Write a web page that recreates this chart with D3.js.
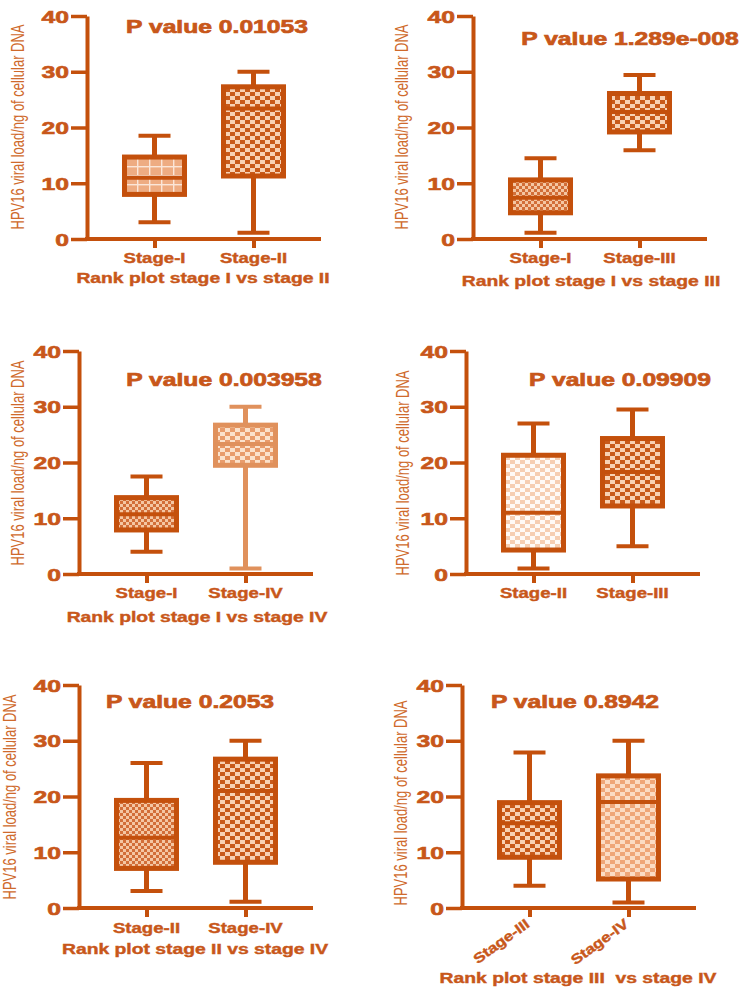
<!DOCTYPE html>
<html><head><meta charset="utf-8">
<script src="https://cdn.jsdelivr.net/npm/d3@7"></script>
<style>
html,body{margin:0;padding:0;background:#fff;}
svg{display:block;font-family:"Liberation Sans",Arial,Helvetica,sans-serif;}
</style></head>
<body>
<svg id="chart" width="749" height="997"></svg>
<script>
// ---------- DATA ----------
const yTicks = [0, 10, 20, 30, 40];
const yLabel = "HPV16 viral load/ng of cellular DNA";

const categories1 = ["Stage-I", "Stage-II"];
const stats1 = [[3, 8, 11, 14.7, 18.5], [1.1, 11.3, 23.4, 27.3, 30]]; // min,q1,median,q3,max
const pValue1 = "P value 0.01053";
const title1 = "Rank plot stage I vs stage II";

const categories2 = ["Stage-I", "Stage-III"];
const stats2 = [[1.1, 4.7, 7.4, 10.6, 14.5], [15.9, 19.2, 22.8, 26.1, 29.4]];
const pValue2 = "P value 1.289e-008";
const title2 = "Rank plot stage I vs stage III";

const categories3 = ["Stage-I", "Stage-IV"];
const stats3 = [[4.0, 7.9, 10.7, 13.7, 17.5], [1.0, 19.5, 23.3, 26.7, 30]];
const pValue3 = "P value 0.003958";
const title3 = "Rank plot stage I vs stage IV";

const categories4 = ["Stage-II", "Stage-III"];
const stats4 = [[1.0, 4.3, 11.0, 21.3, 27], [5.0, 12.2, 18.3, 24.3, 29.5]];
const pValue4 = "P value 0.09909";
const title4 = "";

const categories5 = ["Stage-II", "Stage-IV"];
const stats5 = [[3.05, 7.1, 12.6, 19.3, 26], [1.1, 8.2, 21.0, 26.7, 30]];
const pValue5 = "P value 0.2053";
const title5 = "Rank plot stage II vs stage IV";

const categories6 = ["Stage-III", "Stage-IV"];
const stats6 = [[4.0, 9.1, 15.2, 18.9, 27.9], [1.0, 5.2, 19.0, 23.7, 30]];
const pValue6 = "P value 0.8942";
const title6 = "Rank plot stage III  vs stage IV";

// ---------- STYLE ----------
const DARK = "#c4500c";
const LIGHT_STROKE = "#e0915c";
const TEXT = "#c8571a";
const YLAB = "#cf6a2c";

const svg = d3.select("#chart");
const defs = svg.append("defs");

function checker(id, w, h, dark, light) {
  const p = defs.append("pattern").attr("id", id).attr("patternUnits", "userSpaceOnUse")
    .attr("width", 2 * w).attr("height", 2 * h);
  p.append("rect").attr("width", 2 * w).attr("height", 2 * h).attr("fill", dark);
  p.append("rect").attr("x", 0).attr("y", 0).attr("width", w).attr("height", h).attr("fill", light);
  p.append("rect").attr("x", w).attr("y", h).attr("width", w).attr("height", h).attr("fill", light);
}
checker("darkCheck", 5, 4, "#c85a1a", "#f8d2b4");
checker("fineCheck", 3, 3, "#d26e38", "#f4c6a2");
checker("lightCheck", 5, 4, "#e89c6c", "#fbe2cc");
checker("paleCheck", 5, 4, "#f6ceb2", "#fffaf6");
checker("peachCheck", 5, 4, "#efa678", "#fbdcc4");
(function plaid() {
  const p = defs.append("pattern").attr("id", "plaid").attr("patternUnits", "userSpaceOnUse")
    .attr("width", 12).attr("height", 9);
  p.append("rect").attr("width", 12).attr("height", 9).attr("fill", "#eeac82");
  p.append("rect").attr("x", 5).attr("y", 0).attr("width", 1.4).attr("height", 9).attr("fill", "#fbe6d8");
  p.append("rect").attr("x", 0).attr("y", 4).attr("width", 12).attr("height", 1.4).attr("fill", "#fbe6d8");
})();

function heavy(sel, w) {
  return sel.attr("stroke", TEXT).attr("stroke-width", w).attr("paint-order", "stroke");
}

function stext(g, str, x, y, size, weight, anchor, sx, color) {
  return g.append("text")
    .attr("transform", `translate(${x},${y}) scale(${sx},1)`)
    .attr("text-anchor", anchor)
    .style("font-size", size + "px").style("font-weight", weight)
    .style("white-space", "pre")
    .attr("fill", color).text(str);
}

function drawPanel(cfg) {
  const g = svg.append("g");
  const y = d3.scaleLinear().domain([0, 40]).range([cfg.y0, cfg.y0 - 223]);
  const x = d3.scalePoint().domain(cfg.cats).range([cfg.axX, cfg.axX + 234]).padding(0.682);

  // y axis
  const ya = g.append("g").attr("transform", `translate(${cfg.axX},0)`)
    .call(d3.axisLeft(y).tickValues(yTicks).tickSize(16).tickSizeOuter(0).tickFormat(d3.format("d")));
  ya.select(".domain").attr("stroke", DARK).attr("stroke-width", 4);
  ya.selectAll(".tick line").attr("stroke", DARK).attr("stroke-width", 3.5);
  heavy(ya.selectAll(".tick text").attr("x", null).attr("dy", null)
    .attr("transform", "translate(-18,6) scale(1.5,1)")
    .attr("fill", TEXT).style("font-size", "16.5px").style("font-weight", "bold")
    .style("font-family", "inherit"), 0.6);

  // x axis
  const xa = g.append("g").attr("transform", `translate(0,${cfg.y0})`)
    .call(d3.axisBottom(x).tickSize(9).tickSizeOuter(0).tickFormat(""));
  xa.select(".domain").attr("stroke", DARK).attr("stroke-width", 4).attr("d", `M${cfg.axX - 2},0H${cfg.axX + 234}`);
  xa.selectAll(".tick line").attr("stroke", DARK).attr("stroke-width", 4);

  // category labels
  cfg.cats.forEach((c) => {
    if (cfg.rotate) {
      heavy(g.append("text")
        .attr("transform", `translate(${x(c) + 1},${cfg.y0 + 18}) rotate(-36) scale(1.2,1)`)
        .attr("text-anchor", "end").style("font-size", "14px").style("font-weight", "bold")
        .attr("fill", TEXT).text(c), 0.4);
    } else {
      heavy(stext(g, c, x(c), cfg.catY, 14, "bold", "middle", 1.33, TEXT), 0.4);
    }
  });

  // boxes
  const bw = 60, cw = 32;
  cfg.cats.forEach((c, i) => {
    const [mn, q1, md, q3, mx] = cfg.stats[i];
    const col = cfg.strokes[i];
    const cx = x(c);
    g.append("line").attr("x1", cx).attr("x2", cx).attr("y1", y(mx)).attr("y2", y(q3))
      .attr("stroke", col).attr("stroke-width", 5);
    g.append("line").attr("x1", cx).attr("x2", cx).attr("y1", y(q1)).attr("y2", y(mn))
      .attr("stroke", col).attr("stroke-width", 5);
    g.append("line").attr("x1", cx - cw / 2).attr("x2", cx + cw / 2).attr("y1", y(mx)).attr("y2", y(mx))
      .attr("stroke", col).attr("stroke-width", 4);
    g.append("line").attr("x1", cx - cw / 2).attr("x2", cx + cw / 2).attr("y1", y(mn)).attr("y2", y(mn))
      .attr("stroke", col).attr("stroke-width", 4);
    g.append("rect").attr("x", cx - bw / 2).attr("y", y(q3)).attr("width", bw).attr("height", y(q1) - y(q3))
      .attr("fill", `url(#${cfg.fills[i]})`).attr("stroke", col).attr("stroke-width", 5);
    g.append("line").attr("x1", cx - bw / 2).attr("x2", cx + bw / 2).attr("y1", y(md)).attr("y2", y(md))
      .attr("stroke", col).attr("stroke-width", 4);
  });

  // p value
  heavy(stext(g, cfg.pval, cfg.pX, cfg.pY, 18, "bold", "middle", 1.37, TEXT), 0.7);
  // title
  if (cfg.title) heavy(stext(g, cfg.title, cfg.tX, cfg.tY, 14, "bold", "middle", 1.38, TEXT), 0.4);
  // y label
  g.append("text")
    .attr("transform", `translate(${cfg.ylX},${cfg.ylY}) rotate(-90) scale(1,1.4)`)
    .attr("text-anchor", "middle").attr("dominant-baseline", "central")
    .style("font-size", "13px").attr("fill", YLAB).text(yLabel);
}

drawPanel({cats: categories1, stats: stats1, pval: pValue1, title: title1,
  fills: ["plaid", "darkCheck"], strokes: [DARK, DARK],
  axX: 87, y0: 239, catY: 263, pX: 217, pY: 33, tX: 203, tY: 283, ylX: 18, ylY: 127});
drawPanel({cats: categories2, stats: stats2, pval: pValue2, title: title2,
  fills: ["fineCheck", "darkCheck"], strokes: [DARK, DARK],
  axX: 473, y0: 239, catY: 263, pX: 630, pY: 45, tX: 591, tY: 286, ylX: 402, ylY: 127});
drawPanel({cats: categories3, stats: stats3, pval: pValue3, title: title3,
  fills: ["fineCheck", "lightCheck"], strokes: [DARK, LIGHT_STROKE],
  axX: 79, y0: 574, catY: 598, pX: 224, pY: 386, tX: 197, tY: 622, ylX: 18, ylY: 463});
drawPanel({cats: categories4, stats: stats4, pval: pValue4, title: title4,
  fills: ["paleCheck", "darkCheck"], strokes: [DARK, DARK],
  axX: 466, y0: 574, catY: 598, pX: 620, pY: 386, tX: 0, tY: 0, ylX: 403, ylY: 473});
drawPanel({cats: categories5, stats: stats5, pval: pValue5, title: title5,
  fills: ["fineCheck", "darkCheck"], strokes: [DARK, DARK],
  axX: 79, y0: 908, catY: 933, pX: 190, pY: 708, tX: 195, tY: 954, ylX: 10, ylY: 797});
drawPanel({cats: categories6, stats: stats6, pval: pValue6, title: title6, rotate: true,
  fills: ["darkCheck", "peachCheck"], strokes: [DARK, DARK],
  axX: 462, y0: 908, catY: 933, pX: 575, pY: 708, tX: 578, tY: 983, ylX: 401, ylY: 803});
</script>
</body></html>
